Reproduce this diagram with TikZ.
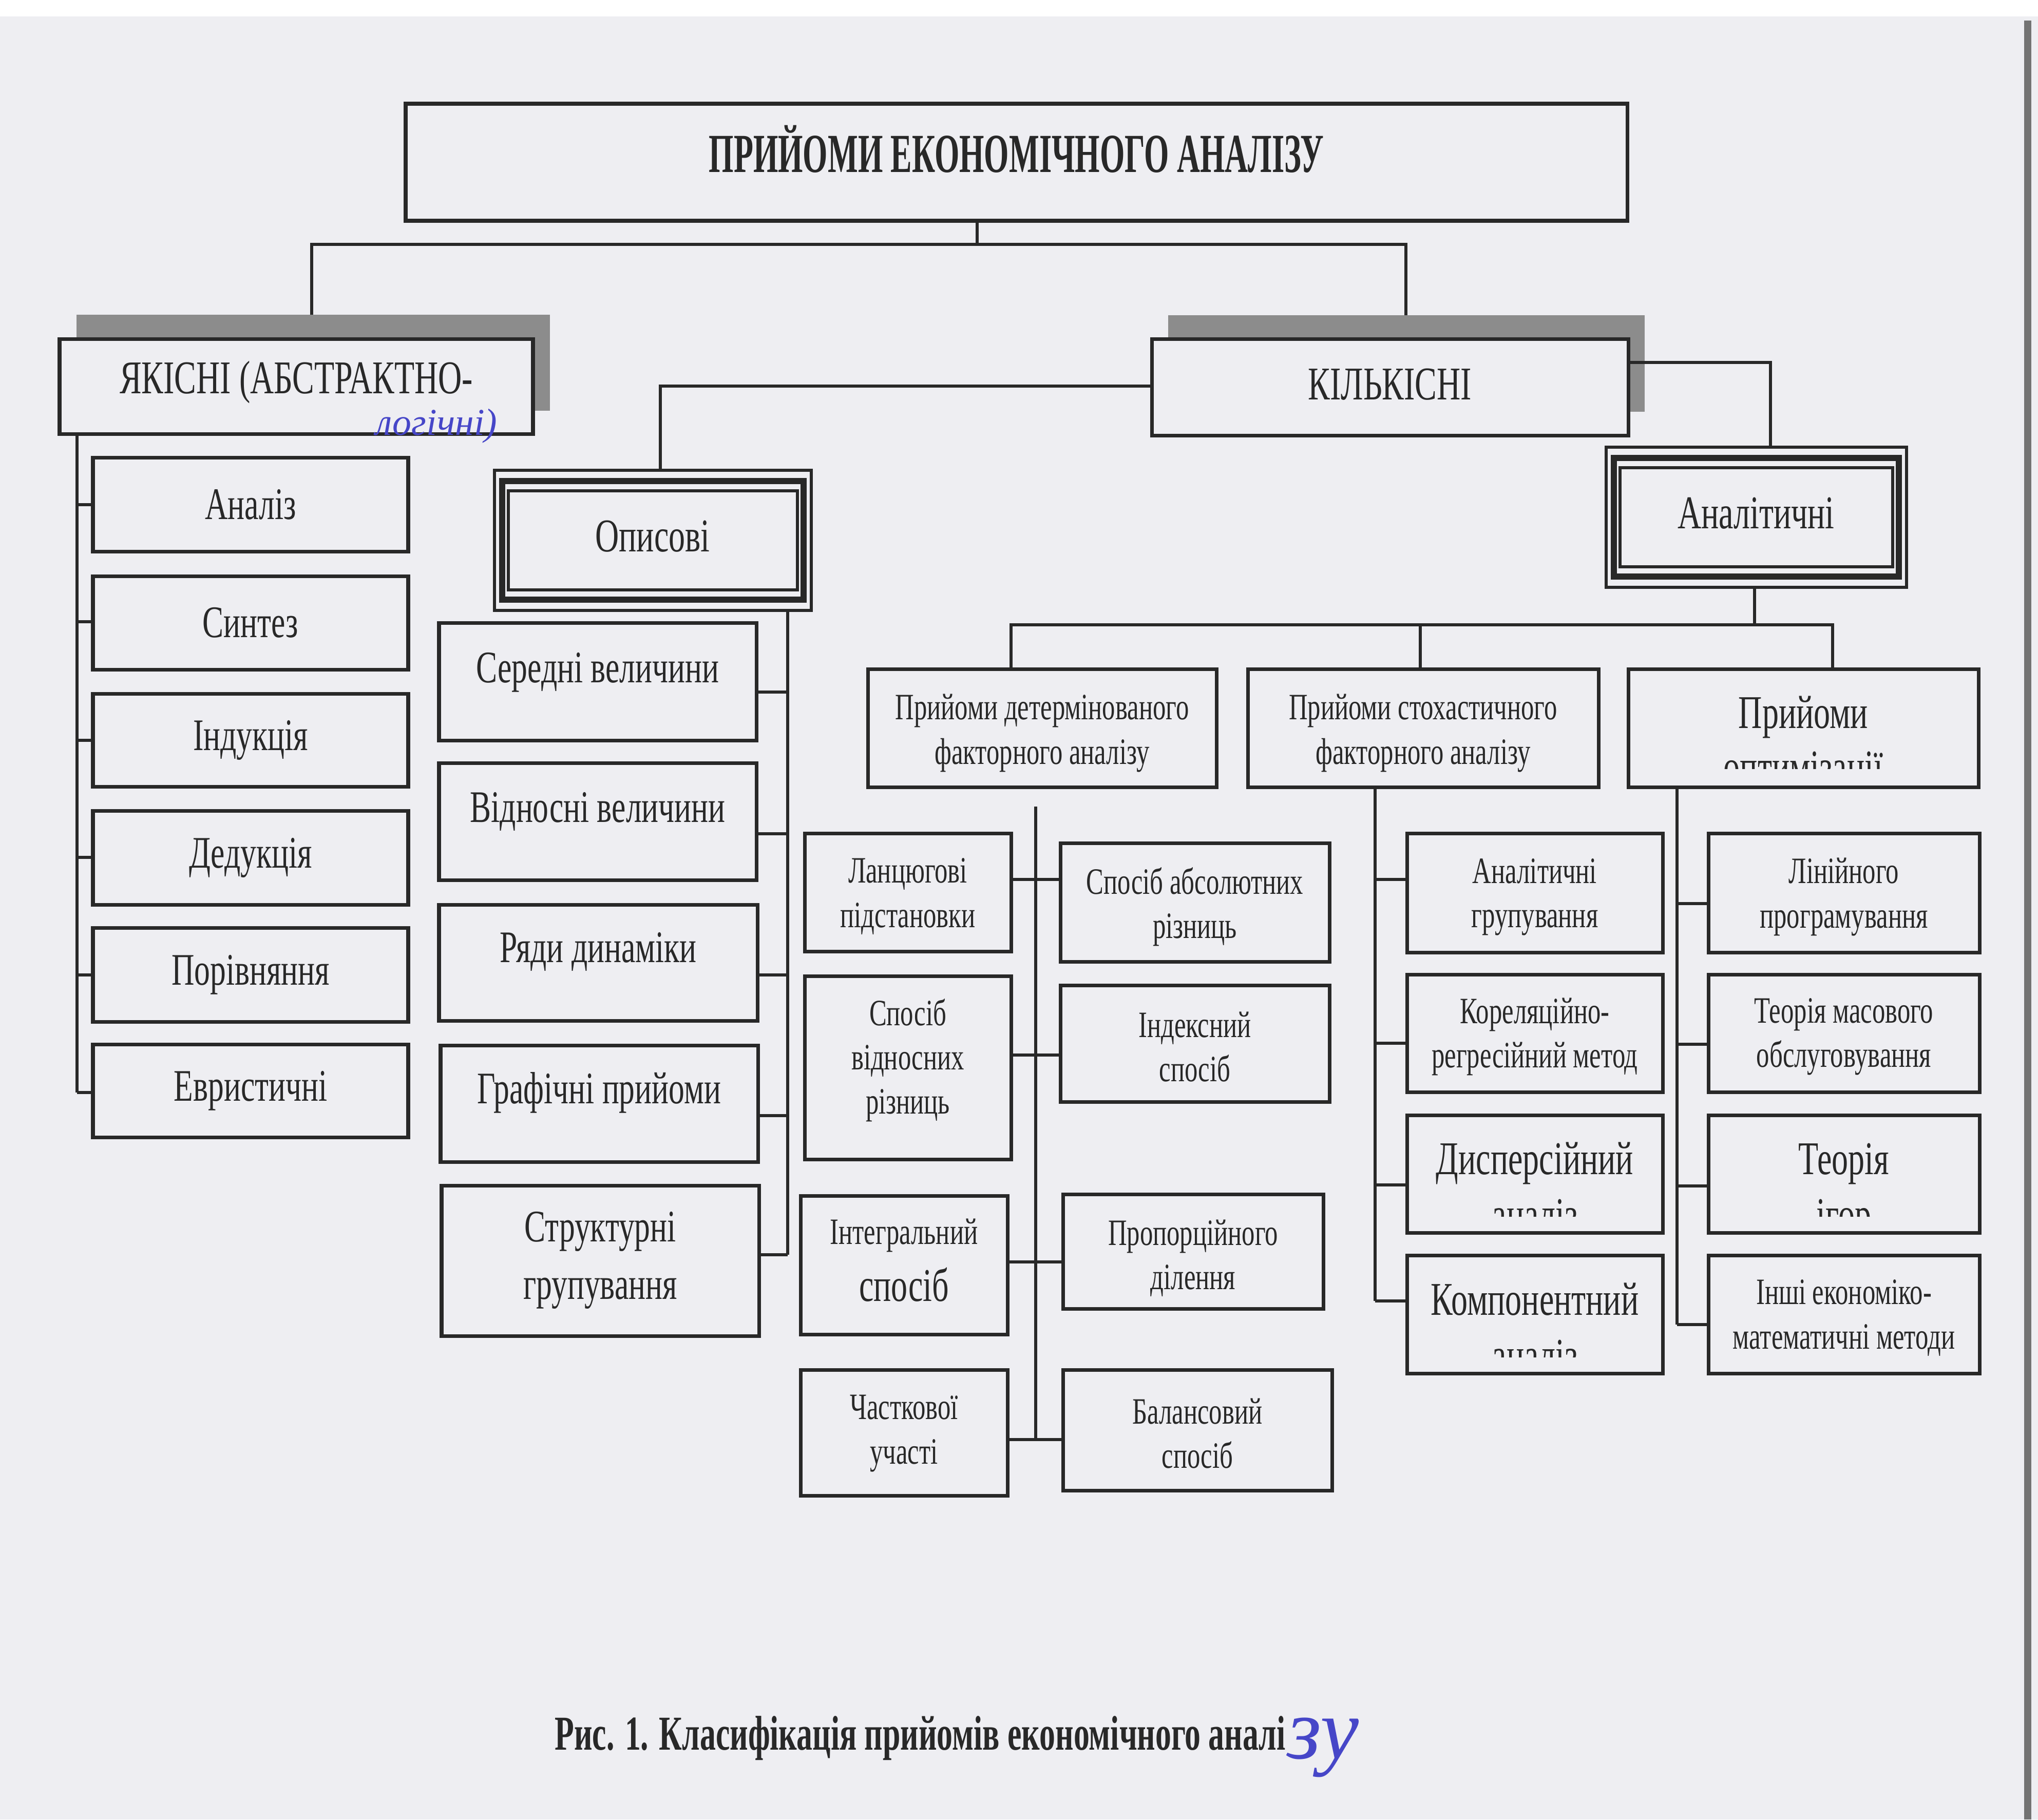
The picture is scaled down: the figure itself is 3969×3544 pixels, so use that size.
\documentclass[tikz,border=0pt]{standalone}
\usepackage{fontspec}
\setmainfont{Liberation Serif}
\newfontfamily\fc{Liberation Serif}[FakeStretch=0.7]
\newfontfamily\fb{Liberation Serif Bold}[FakeStretch=0.58]
\newfontfamily\fcap{Liberation Serif Bold}[FakeStretch=0.65]
\newfontfamily\fh{Liberation Serif Italic}
\definecolor{paper}{RGB}{238,238,242}
\definecolor{ink}{RGB}{40,40,40}
\definecolor{pen}{RGB}{70,70,200}
\tikzset{
  box/.style={draw=ink, fill=paper, line width=2pt, inner sep=0pt, outer sep=0pt},
  frm/.style={draw=ink, fill=paper, line width=1.6pt, inner sep=0pt, outer sep=0pt},
  shad/.style={fill=black!45, draw=none, inner sep=0pt, outer sep=0pt},
  conn/.style={draw=ink, line width=1.5pt},
  tS/.style={font=\fc\fontsize{20.6}{24.5}\selectfont, align=center, inner sep=0pt, text=ink},
  tM/.style={font=\fc\fontsize{25}{32}\selectfont, align=center, inner sep=0pt, text=ink},
  tL/.style={font=\fc\fontsize{26}{31}\selectfont, align=center, inner sep=0pt, text=ink},
  tB/.style={font=\fb\fontsize{30.5}{36}\selectfont, inner sep=0pt, text=ink},
  tC/.style={font=\fcap\fontsize{27}{32}\selectfont, inner sep=0pt, text=ink},
  hand/.style={font=\fh\fontsize{21}{24}\selectfont, text=pen, inner sep=0pt},
}
% #1 style, #2 name, #3 x1, #4 y1, #5 x2, #6 y2
\newcommand\mybox[6][box]{\node[#1, minimum width={(#5-#3)*0.01cm}, minimum height={(#6-#4)*0.01cm}] (#2) at ({(#3+#5)/2},{(#4+#6)/2}) {};}
\newcommand\tripleframe[1]{%
  \draw[ink, line width=3.5pt] ([shift={(15,21)}]#1.north west) rectangle ([shift={(-15,-21)}]#1.south east);
  \draw[ink, line width=1.6pt] ([shift={(27,40)}]#1.north west) rectangle ([shift={(-27,-40)}]#1.south east);}
\begin{document}
\begin{tikzpicture}[x=0.01cm, y=-0.01cm]
\fill[paper] (0,0) rectangle (3969,3544);
\useasboundingbox (0,0) rectangle (3969,3544);
\fill[white] (0,0) rectangle (3969,32);
\fill[black!55] (3942,40) rectangle (3956,3544);

% ---------- top level
\mybox{t}{790}{202}{3169}{430}
\node[tB] (tt) at (t.center |- 0,290) {ПРИЙОМИ ЕКОНОМІЧНОГО АНАЛІЗУ};

\mybox[shad]{yks}{149}{613}{1071}{800}
\mybox{yk}{116}{660}{1038}{845}
\node[tL] (ykt) at (577,744) {ЯКІСНІ (АБСТРАКТНО-};
\node[hand] (hw1) at (850,830) {логічні)};

\mybox[shad]{kils}{2275}{614}{3203}{802}
\mybox{kil}{2243}{660}{3171}{848}
\node[tL] (kilt) at (2707,749) {КІЛЬКІСНІ};

\mybox[frm]{op}{963}{916}{1580}{1189}
\tripleframe{op}
\node[tL] (opt0) at (1271,1045) {Описові};

\mybox[frm]{an}{3128}{871}{3713}{1144}
\tripleframe{an}
\node[tL] (ant) at (3420,1000) {Аналітичні};

% ---------- left column
\mybox{a1}{181}{891}{795}{1074}
\mybox{a2}{181}{1122}{795}{1304}
\mybox{a3}{181}{1351}{795}{1532}
\mybox{a4}{181}{1579}{795}{1762}
\mybox{a5}{181}{1807}{795}{1990}
\mybox{a6}{181}{2034}{795}{2215}
\node[tM] (a1t) at (a1) {Аналіз};
\node[tM] (a2t) at (a2) {Синтез};
\node[tM] (a3t) at (a3) {Індукція};
\node[tM] (a4t) at (a4) {Дедукція};
\node[tM] (a5t) at (a5) {Порівняння};
\node[tM] (a6t) at (a6) {Евристичні};

% ---------- descriptive
\mybox{o1}{855}{1213}{1473}{1442}
\mybox{o2}{855}{1486}{1473}{1714}
\mybox{o3}{855}{1762}{1475}{1988}
\mybox{o4}{858}{2036}{1476}{2263}
\mybox{o5}{860}{2309}{1478}{2602}
\node[tM] (o1t) at (o1.center |- 0,1310) {Середні величини};
\node[tM] (o2t) at (o2.center |- 0,1581) {Відносні величини};
\node[tM] (o3t) at (o3.center |- 0,1854) {Ряди динаміки};
\node[tM] (o4t) at (o4.center |- 0,2128) {Графічні прийоми};
\node[tM] (o5t) at (o5.center |- 0,2455) {Структурні\\групування};

% ---------- analytic row
\mybox{det}{1690}{1303}{2369}{1533}
\mybox{sto}{2430}{1303}{3113}{1533}
\mybox{opt}{3171}{1303}{3853}{1533}
\node[tS] (dett) at (det.center |- 0,1428) {Прийоми детермінованого\\факторного аналізу};
\node[tS] (stot) at (sto.center |- 0,1428) {Прийоми стохастичного\\факторного аналізу};
\node[tL, anchor=base] (optt1) at (opt.center |- 0,1418) {Прийоми};
\begin{scope}
  \clip (3171,1303) rectangle (3853,1497);
  \node[tL, anchor=base] (optt2) at (opt.center |- 0,1524) {оптимізації};
\end{scope}

% ---------- deterministic children
\mybox{d1}{1567}{1623}{1969}{1853}
\mybox{d2}{1567}{1901}{1969}{2258}
\mybox{d3}{1559}{2329}{1962}{2599}
\mybox{d4}{1559}{2668}{1962}{2913}
\mybox{d5}{2065}{1642}{2589}{1873}
\mybox{d6}{2065}{1919}{2589}{2146}
\mybox{d7}{2070}{2326}{2577}{2549}
\mybox{d8}{2070}{2668}{2594}{2903}
\node[tS] (d1t) at (d1.center |- 0,1746) {Ланцюгові\\підстановки};
\node[tS] (d2t) at (d2.center |- 0,2065) {Спосіб\\відносних\\різниць};
\node[tS] (d3t1) at (d3.center |- 0,2406) {Інтегральний};
\node[tL] (d3t2) at (d3.center |- 0,2502) {спосіб};
\node[tS] (d4t) at (d4.center |- 0,2792) {Часткової\\участі};
\node[tS] (d5t) at (d5.center |- 0,1766) {Спосіб абсолютних\\різниць};
\node[tS] (d6t) at (d6.center |- 0,2039) {Індексний\\спосіб};
\node[tS] (d7t) at (d7.center |- 0,2451) {Пропорційного\\ділення};
\node[tS] (d8t) at (d8.center |- 0,2792) {Балансовий\\спосіб};

% ---------- stochastic children
\mybox{s1}{2740}{1623}{3238}{1855}
\mybox{s2}{2740}{1898}{3238}{2127}
\mybox{s3}{2740}{2172}{3238}{2401}
\mybox{s4}{2740}{2445}{3238}{2675}
\node[tS] (s1t) at (s1.center |- 0,1747) {Аналітичні\\групування};
\node[tS] (s2t) at (s2.center |- 0,2019) {Кореляційно-\\регресійний метод};
\node[tL, anchor=base] (s3t1) at (s3.center |- 0,2287) {Дисперсійний};
\node[tL, anchor=base] (s4t1) at (s4.center |- 0,2561) {Компонентний};
\begin{scope}
  \clip (2740,2172) rectangle (3238,2369);
  \node[tL, anchor=base] (s3t2) at (s3.center |- 0,2396) {аналіз};
\end{scope}
\begin{scope}
  \clip (2740,2445) rectangle (3238,2643);
  \node[tL, anchor=base] (s4t2) at (s4.center |- 0,2670) {аналіз};
\end{scope}

% ---------- optimisation children
\mybox{p1}{3327}{1623}{3855}{1855}
\mybox{p2}{3327}{1898}{3855}{2127}
\mybox{p3}{3327}{2172}{3855}{2401}
\mybox{p4}{3327}{2445}{3855}{2675}
\node[tS] (p1t) at (p1.center |- 0,1747) {Лінійного\\програмування};
\node[tS] (p2t) at (p2.center |- 0,2019) {Теорія масового\\обслуговування};
\node[tL, anchor=base] (p3t1) at (p3.center |- 0,2287) {Теорія};
\begin{scope}
  \clip (3327,2172) rectangle (3855,2369);
  \node[tL, anchor=base] (p3t2) at (p3.center |- 0,2396) {ігор};
\end{scope}
\node[tS] (p4t) at (p4.center |- 0,2567) {Інші економіко-\\математичні методи};

% ---------- connectors
\coordinate (hub) at (1903,476);
\draw[conn] (t.south -| hub) -- (hub);
\draw[conn] (yks.north -| 607,0) |- (2738,476) -- (kils.north -| 2738,0);
\draw[conn] (kil.east |- 0,706) -| (an.north -| 3448,0);
\draw[conn] (kil.west |- 0,752) -| (op.north -| 1286,0);

\coordinate (ahub) at (3417,1217);
\draw[conn] (an.south -| ahub) -- (ahub);
\draw[conn] (det.north -| 1969,0) |- (3569,1217) -- (opt.north -| 3569,0);
\draw[conn] (sto.north -| 2766,0) -- (2766,1217);

% left column
\draw[conn] (yk.south -| 150,0) -- (150,2128);
\draw[conn] (150,983) -- (a1.west |- 0,983);
\draw[conn] (150,1211) -- (a2.west |- 0,1211);
\draw[conn] (150,1442) -- (a3.west |- 0,1442);
\draw[conn] (150,1670) -- (a4.west |- 0,1670);
\draw[conn] (150,1899) -- (a5.west |- 0,1899);
\draw[conn] (150,2128) -- (a6.west |- 0,2128);

% descriptive
\draw[conn] (op.south -| 1534,0) -- (1534,2444);
\draw[conn] (o1.east |- 0,1348) -- (1534,1348);
\draw[conn] (o2.east |- 0,1624) -- (1534,1624);
\draw[conn] (o3.east |- 0,1899) -- (1534,1899);
\draw[conn] (o4.east |- 0,2173) -- (1534,2173);
\draw[conn] (o5.east |- 0,2444) -- (1534,2444);

% deterministic
\coordinate (dtop) at (2017,1571);
\draw[conn] (dtop) -- (2017,2804);
\draw[conn] (d1.east |- 0,1713) -- (d5.west |- 0,1713);
\draw[conn] (d2.east |- 0,2055) -- (d6.west |- 0,2055);
\draw[conn] (d3.east |- 0,2458) -- (d7.west |- 0,2458);
\draw[conn] (d4.east |- 0,2804) -- (d8.west |- 0,2804);

% stochastic
\draw[conn] (sto.south -| 2678,0) -- (2678,2534);
\draw[conn] (2678,1713) -- (s1.west |- 0,1713);
\draw[conn] (2678,2032) -- (s2.west |- 0,2032);
\draw[conn] (2678,2308) -- (s3.west |- 0,2308);
\draw[conn] (2678,2534) -- (s4.west |- 0,2534);

% optimisation
\draw[conn] (opt.south -| 3266,0) -- (3266,2580);
\draw[conn] (3266,1760) -- (p1.west |- 0,1760);
\draw[conn] (3266,2034) -- (p2.west |- 0,2034);
\draw[conn] (3266,2310) -- (p3.west |- 0,2310);
\draw[conn] (3266,2580) -- (p4.west |- 0,2580);

% ---------- caption
\node[tC] (cap) at (1792,3386) {Рис. 1. Класифікація прийомів економічного аналі};
\node[hand, font=\fh\fontsize{48}{50}\selectfont, anchor=west, xshift=0.02cm, yshift=-0.18cm] (hw2) at (cap.east) {зу};
\end{tikzpicture}
\end{document}
